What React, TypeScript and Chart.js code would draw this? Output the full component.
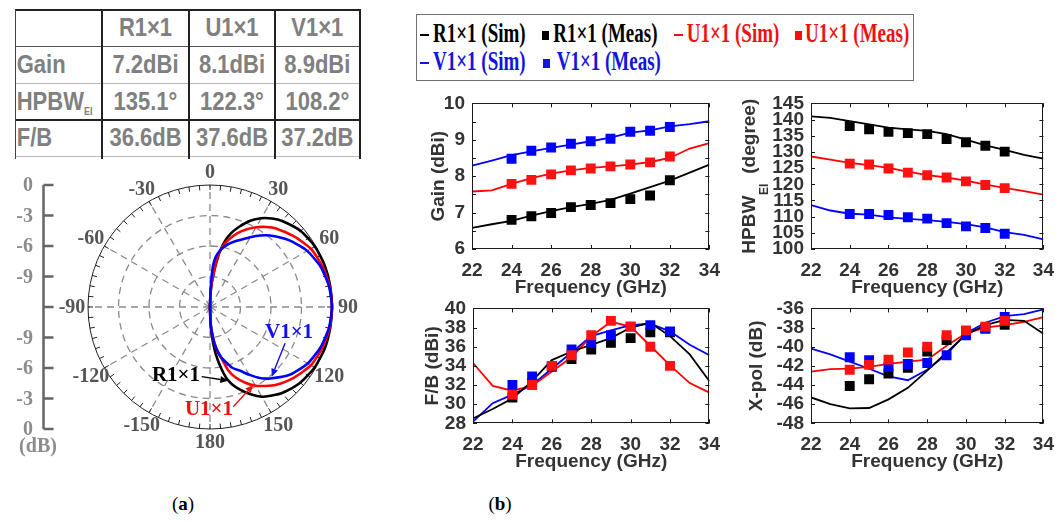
import React, { useEffect, useRef } from 'react';
import { Chart, registerables } from 'chart.js';
Chart.register(...registerables);

const SANS = '"Liberation Sans", Arial, sans-serif';
const SERIF = '"Liberation Serif", "Times New Roman", serif';
const BLACK = '#000000';
const RED = '#ff0000';
const BLUE = '#0000ff';

// ---------- table ----------
const tableHeader = ['', 'R1×1', 'U1×1', 'V1×1'];
const tableRowNames = ['Gain', 'HPBW', 'F/B'];
const tableGain = ['7.2dBi', '8.1dBi', '8.9dBi'];
const tableHpbw = ['135.1°', '122.3°', '108.2°'];
const tableFB = ['36.6dB', '37.6dB', '37.2dB'];

// ---------- polar patterns (dB vs angle in degrees) ----------
const DB_MIN = -12;
const polarAngles = [0, 2, 4, 6, 8, 10, 13, 16, 20, 25, 30, 35, 40, 50, 60, 70, 80, 90, 100, 110, 120, 130, 140, 145, 150, 155, 160, 164, 167, 170, 173, 176, 178, 180];
const patR = [-12, -10.8, -9.72, -8.76, -7.68, -6.48, -5.28, -4.44, -3.6, -2.64, -1.92, -1.38, -0.96, -0.36, -0.08, 0, 0, 0, 0, 0, -0.12, -0.42, -0.96, -1.38, -1.8, -2.52, -3.36, -4.08, -4.8, -6.0, -7.32, -9.0, -10.2, -12];
const patU = [-12, -10.8, -9.6, -8.64, -7.32, -6.48, -5.64, -5.04, -4.32, -3.6, -2.94, -2.4, -1.92, -1.2, -0.54, -0.24, -0.06, 0, -0.06, -0.24, -0.54, -1.2, -1.98, -2.52, -3.06, -3.78, -4.62, -5.52, -6.72, -7.44, -8.4, -9.6, -10.56, -12];
const patV = [-12, -10.2, -8.04, -7.2, -6.72, -6.36, -5.94, -5.58, -5.16, -4.68, -4.08, -3.42, -2.82, -1.8, -0.96, -0.42, -0.12, 0, -0.12, -0.42, -0.9, -1.68, -2.82, -3.48, -4.32, -5.1, -5.64, -6.36, -6.84, -7.56, -8.4, -9.6, -10.56, -12];
const polarAngleLabels = [0, 30, 60, 90, 120, 150, 180, -150, -120, -90, -60, -30];
const dbScaleLabels = ['0', '-3', '-6', '-9', '', '-9', '-6', '-3', '0'];
const dbRings = [-9, -6, -3];

// ---------- frequency-swept results ----------
const freqSim = [22, 23, 24, 25, 26, 27, 28, 29, 30, 31, 32, 33, 34];
const freqMeas = [24, 25, 26, 27, 28, 29, 30, 31, 32];

const gainSimR = [6.58, 6.68, 6.77, 6.92, 7.04, 7.15, 7.24, 7.35, 7.52, 7.70, 7.88, 8.10, 8.32];
const gainSimU = [7.58, 7.61, 7.79, 7.95, 8.07, 8.16, 8.23, 8.27, 8.32, 8.39, 8.50, 8.76, 8.91];
const gainSimV = [8.29, 8.43, 8.58, 8.68, 8.78, 8.87, 8.96, 9.06, 9.20, 9.26, 9.37, 9.43, 9.51];
const gainMeasR = [6.80, 6.90, 6.99, 7.15, 7.21, 7.26, 7.37, 7.47, 7.89];
const gainMeasU = [7.79, 7.90, 8.05, 8.16, 8.21, 8.27, 8.32, 8.38, 8.54];
const gainMeasV = [8.48, 8.70, 8.79, 8.89, 8.96, 9.03, 9.22, 9.25, 9.35];

const hpbwSimR = [141.0, 140.5, 139.5, 138.5, 137.5, 137.0, 136.5, 135.5, 133.8, 132.0, 130.6, 129.1, 127.9];
const hpbwSimU = [128.6, 127.6, 126.6, 125.9, 125.1, 123.9, 122.8, 122.1, 121.1, 119.9, 118.9, 117.9, 116.8];
const hpbwSimV = [113.6, 111.9, 110.9, 110.6, 109.8, 109.3, 108.9, 108.4, 107.7, 106.7, 105.2, 104.4, 103.0];
const hpbwMeasR = [138.0, 137.0, 136.2, 135.8, 135.5, 134.0, 133.0, 131.9, 130.1];
const hpbwMeasU = [126.4, 126.1, 124.9, 123.6, 122.8, 122.1, 120.9, 119.8, 118.8];
const hpbwMeasV = [110.8, 110.8, 110.5, 109.8, 109.4, 108.0, 107.0, 106.5, 104.7];

const fbSimR = [28.5, 29.5, 30.6, 32.4, 34.6, 35.5, 36.2, 36.9, 38.0, 38.5, 37.1, 35.2, 32.4];
const fbSimU = [34.3, 31.9, 31.4, 31.9, 33.4, 34.9, 37.1, 38.6, 38.1, 36.1, 34.05, 32.2, 31.2];
const fbSimV = [28.17, 30.1, 31.0, 32.0, 33.7, 35.4, 37.1, 37.7, 38.25, 38.4, 37.6, 36.2, 35.1];
const fbMeasR = [30.7, 32.2, 33.9, 34.7, 35.7, 36.4, 36.9, 37.5, 37.5];
const fbMeasU = [31.0, 32.0, 34.0, 35.1, 37.2, 38.7, 38.1, 36.0, 34.0];
const fbMeasV = [32.0, 32.9, 34.0, 35.7, 36.4, 37.2, 38.1, 38.25, 37.6];

const xpSimR = [-45.3, -46.0, -46.45, -46.4, -45.5, -44.3, -42.5, -40.6, -38.75, -37.75, -37.2, -37.3, -38.65];
const xpSimU = [-42.6, -42.35, -42.3, -42.1, -41.8, -41.55, -41.35, -39.9, -38.6, -38.0, -37.75, -37.4, -36.9];
const xpSimV = [-40.2, -40.8, -41.55, -42.3, -43.1, -43.5, -42.4, -40.8, -38.6, -37.5, -36.8, -36.6, -36.1];
const xpMeasR = [-44.1, -43.4, -42.8, -42.2, -40.5, -39.3, -38.6, -38.1, -37.7];
const xpMeasU = [-42.4, -41.9, -41.35, -40.6, -40.0, -38.8, -38.3, -37.9, -37.3];
const xpMeasV = [-41.1, -41.4, -42.1, -41.8, -41.7, -40.9, -38.8, -38.1, -36.9];

// ---------- helpers ----------
const TICK_FONT = { family: SANS, size: 19, weight: 'bold' as const };
const AX_COLOR = '#333333';
const XAXIS_H = 50;

function drawArrow(ctx: CanvasRenderingContext2D, x1: number, y1: number, x2: number, y2: number, color: string) {
  const ang = Math.atan2(y2 - y1, x2 - x1);
  const hl = 8, hw = 3.5;
  ctx.save();
  ctx.strokeStyle = color; ctx.fillStyle = color; ctx.lineWidth = 1.4;
  ctx.beginPath();
  ctx.moveTo(x1, y1);
  ctx.lineTo(x2 - hl * Math.cos(ang), y2 - hl * Math.sin(ang));
  ctx.stroke();
  ctx.beginPath();
  ctx.moveTo(x2, y2);
  ctx.lineTo(x2 - hl * Math.cos(ang) + hw * Math.sin(ang), y2 - hl * Math.sin(ang) - hw * Math.cos(ang));
  ctx.lineTo(x2 - hl * Math.cos(ang) - hw * Math.sin(ang), y2 - hl * Math.sin(ang) + hw * Math.cos(ang));
  ctx.closePath();
  ctx.fill();
  ctx.restore();
}

// ---------- Polar chart ----------
const polarAnnotations = [
  { text: 'R1×1', color: BLACK, tx: -0.279, ty: -0.557, ax1: -0.068, ay1: -0.571, ax2: 0.150, ay2: -0.604 },
  { text: 'U1×1', color: '#ee1111', tx: -0.008, ty: -0.836, ax1: 0.191, ay1: -0.817, ax2: 0.355, ay2: -0.639 },
  { text: 'V1×1', color: '#1111ee', tx: 0.648, ty: -0.205, ax1: 0.615, ay1: -0.298, ax2: 0.506, ay2: -0.571 },
];

const polarPlugin = {
  id: 'polarDecor',
  beforeDatasetsDraw(chart: any) {
    const { ctx } = chart;
    const sx = chart.scales.x, sy = chart.scales.y;
    const cx = sx.getPixelForValue(0), cy = sy.getPixelForValue(0);
    const R = sx.getPixelForValue(1) - cx;
    ctx.save();
    ctx.strokeStyle = '#8a8a8a'; ctx.lineWidth = 1.3; ctx.setLineDash([7, 5]);
    for (const d of dbRings) {
      const f = (d - DB_MIN) / -DB_MIN;
      ctx.beginPath(); ctx.arc(cx, cy, R * f, 0, 2 * Math.PI); ctx.stroke();
    }
    for (let a = 0; a < 360; a += 30) {
      const t = a * Math.PI / 180;
      ctx.beginPath(); ctx.moveTo(cx, cy); ctx.lineTo(cx + R * Math.sin(t), cy - R * Math.cos(t)); ctx.stroke();
    }
    ctx.setLineDash([]);
    ctx.strokeStyle = '#222'; ctx.lineWidth = 1;
    ctx.beginPath(); ctx.arc(cx, cy, R, 0, 2 * Math.PI); ctx.stroke();
    ctx.beginPath();
    for (let a = 0; a < 360; a += 5) {
      const t = a * Math.PI / 180;
      ctx.moveTo(cx + R * Math.sin(t), cy - R * Math.cos(t));
      ctx.lineTo(cx + (R - 5) * Math.sin(t), cy - (R - 5) * Math.cos(t));
    }
    ctx.stroke();
    ctx.restore();
  },
  afterDatasetsDraw(chart: any) {
    const { ctx } = chart;
    const sx = chart.scales.x, sy = chart.scales.y;
    const cx = sx.getPixelForValue(0), cy = sy.getPixelForValue(0);
    const R = sx.getPixelForValue(1) - cx;
    ctx.save();
    // angle labels
    ctx.font = `bold 20px ${SERIF}`;
    ctx.fillStyle = '#555555';
    ctx.textAlign = 'center'; ctx.textBaseline = 'middle';
    for (const a of polarAngleLabels) {
      const t = a * Math.PI / 180;
      const r = R + 13 + 3 * Math.abs(Math.sin(t));
      ctx.fillText(String(a), cx + r * Math.sin(t), cy - r * Math.cos(t) + 1);
    }
    // left dB scale
    const lx = 43.5;
    ctx.strokeStyle = '#666'; ctx.lineWidth = 2.5;
    ctx.beginPath();
    ctx.moveTo(lx, cy - R); ctx.lineTo(lx, cy + R);
    for (let k = -4; k <= 4; k++) {
      const y = cy + k * R / 4;
      ctx.moveTo(lx, y); ctx.lineTo(lx + 10, y);
    }
    ctx.stroke();
    ctx.fillStyle = '#8c8c8c';
    ctx.textAlign = 'right';
    dbScaleLabels.forEach((s, i) => {
      const y = cy + (i - 4) * R / 4;
      if (s) ctx.fillText(s, 33, y + 1);
    });
    ctx.textAlign = 'center';
    ctx.fillText('(dB)', 38, cy + R + 18);
    // annotations
    ctx.font = `bold 21px ${SERIF}`;
    for (const an of polarAnnotations) {
      ctx.fillStyle = an.color;
      ctx.fillText(an.text, sx.getPixelForValue(an.tx), sy.getPixelForValue(an.ty) + 1);
      drawArrow(ctx, sx.getPixelForValue(an.ax1), sy.getPixelForValue(an.ay1), sx.getPixelForValue(an.ax2), sy.getPixelForValue(an.ay2), an.color);
    }
    ctx.restore();
  },
};

function toPolarXY(angles: number[], db: number[]) {
  return angles.map((a, i) => {
    const r = (Math.max(db[i], DB_MIN) - DB_MIN) / -DB_MIN;
    const t = a * Math.PI / 180;
    return { x: r * Math.sin(t), y: r * Math.cos(t) };
  });
}

function PolarChart() {
  const ref = useRef<HTMLCanvasElement>(null);
  const W = 420, H = 300, R = 122, CX = 210, CY = 150;
  useEffect(() => {
    const mk = (db: number[], color: string, order: number) => ({
      data: toPolarXY(polarAngles, db), showLine: true, borderColor: color, backgroundColor: color,
      borderWidth: 2.6, pointRadius: 0, tension: 0.2, order,
    });
    const chart = new Chart(ref.current!, {
      type: 'scatter',
      data: { datasets: [mk(patR, BLACK, 2), mk(patU, RED, 1), mk(patV, BLUE, 0)] as any },
      options: {
        responsive: false, animation: false, events: [],
        layout: { padding: 0 },
        plugins: { legend: { display: false }, tooltip: { enabled: false } },
        scales: {
          x: { type: 'linear', display: false, min: -CX / R, max: (W - CX) / R },
          y: { type: 'linear', display: false, min: -(H - CY) / R, max: CY / R },
        },
      },
      plugins: [polarPlugin],
    });
    return () => chart.destroy();
  }, []);
  return <canvas ref={ref} width={W} height={H} style={{ position: 'absolute', left: 0, top: 157 }} />;
}

// ---------- sub charts ----------
const framePlugin = {
  id: 'frame',
  afterDatasetsDraw(chart: any) {
    const { ctx, chartArea: a, scales } = chart;
    ctx.save();
    ctx.strokeStyle = '#1a1a1a'; ctx.lineWidth = 1;
    ctx.strokeRect(Math.round(a.left) + 0.5, Math.round(a.top) + 0.5, Math.round(a.right - a.left) - 1, Math.round(a.bottom - a.top) - 1);
    const tl = 4;
    ctx.beginPath();
    scales.y.ticks.forEach((t: any) => {
      const y = Math.round(scales.y.getPixelForValue(t.value)) + 0.5;
      ctx.moveTo(a.left, y); ctx.lineTo(a.left + tl, y);
      ctx.moveTo(a.right, y); ctx.lineTo(a.right - tl, y);
    });
    scales.x.ticks.forEach((t: any) => {
      const x = Math.round(scales.x.getPixelForValue(t.value)) + 0.5;
      ctx.moveTo(x, a.bottom); ctx.lineTo(x, a.bottom - tl);
      ctx.moveTo(x, a.top); ctx.lineTo(x, a.top + tl);
    });
    ctx.stroke();
    ctx.restore();
  },
};

const hpbwTitlePlugin = {
  id: 'hpbwTitle',
  afterDraw(chart: any) {
    const { ctx, chartArea: a } = chart;
    const x = chart.options.plugins.hpbwTitle.x;
    const yc = (a.top + a.bottom) / 2;
    ctx.save();
    ctx.translate(x, yc);
    ctx.rotate(-Math.PI / 2);
    ctx.fillStyle = AX_COLOR;
    const big = `bold 19px ${SANS}`, small = `bold 12px ${SANS}`;
    ctx.font = big; const w1 = ctx.measureText('HPBW').width; const w3 = ctx.measureText('  (degree)').width;
    ctx.font = small; const w2 = ctx.measureText('EI').width;
    let x0 = -(w1 + w2 + w3) / 2;
    ctx.textBaseline = 'middle'; ctx.textAlign = 'left';
    ctx.font = big; ctx.fillText('HPBW', x0, 0);
    ctx.font = small; ctx.textBaseline = 'alphabetic'; ctx.fillText('EI', x0 + w1 + 0.5, 18);
    ctx.font = big; ctx.textBaseline = 'middle'; ctx.fillText('  (degree)', x0 + w1 + w2, 0);
    ctx.restore();
  },
};

type Series = { color: string; y: number[] };
interface SubProps {
  rect: { x: number; y: number; w: number; h: number };
  area: { l: number; t: number; r: number; b: number };
  titleX: number;
  yTitle: string | null;
  yMin: number; yMax: number; yStep: number; yLabelStep: number;
  sim: Series[]; meas: Series[];
}

function SubChart(p: SubProps) {
  const ref = useRef<HTMLCanvasElement>(null);
  useEffect(() => {
    const lh = 19 * 1.2;
    const padL = p.yTitle ? p.titleX - p.rect.x - lh / 2 : 0;
    const yW = p.area.l - p.rect.x - padL;
    const padding = {
      left: padL,
      top: p.area.t - p.rect.y,
      right: p.rect.x + p.rect.w - p.area.r,
      bottom: p.rect.y + p.rect.h - p.area.b - XAXIS_H,
    };
    const simSets = p.sim.map((s, i) => ({
      data: freqSim.map((x, j) => ({ x, y: s.y[j] })), showLine: true, borderColor: s.color, backgroundColor: s.color,
      borderWidth: 1.8, pointRadius: 0, order: 10 + i,
    }));
    const measSets = p.meas.map((s, i) => ({
      data: freqMeas.map((x, j) => ({ x, y: s.y[j] })), showLine: false, borderColor: s.color, backgroundColor: s.color,
      borderWidth: 0, pointRadius: 7, pointStyle: 'rect', order: i,
    }));
    const chart = new Chart(ref.current!, {
      type: 'scatter',
      data: { datasets: [...simSets, ...measSets] as any },
      options: {
        responsive: false, animation: false, events: [],
        layout: { padding },
        plugins: { legend: { display: false }, tooltip: { enabled: false }, hpbwTitle: { x: p.titleX - p.rect.x } } as any,
        scales: {
          x: {
            type: 'linear', min: 22, max: 34,
            ticks: { stepSize: 2, font: TICK_FONT, color: AX_COLOR, padding: 10, maxRotation: 0, autoSkip: false },
            grid: { display: false, drawTicks: false }, border: { display: false },
            title: { display: true, text: 'Frequency (GHz)', font: TICK_FONT, color: AX_COLOR, padding: 0 },
            afterFit: (s: any) => { s.height = XAXIS_H; },
          },
          y: {
            type: 'linear', min: p.yMin, max: p.yMax,
            ticks: {
              stepSize: p.yStep, font: TICK_FONT, color: AX_COLOR, padding: 7, autoSkip: false,
              callback: (v: any) => {
                const k = (Number(v) - p.yMin) / p.yLabelStep;
                return Math.abs(k - Math.round(k)) < 1e-6 ? String(Math.round(Number(v) * 10) / 10) : '';
              },
            },
            grid: { display: false, drawTicks: false }, border: { display: false },
            title: { display: !!p.yTitle, text: p.yTitle || '', font: TICK_FONT, color: AX_COLOR, padding: 0 },
            afterFit: (s: any) => { s.width = yW; },
          },
        },
      },
      plugins: p.yTitle ? [framePlugin] : [framePlugin, hpbwTitlePlugin],
    });
    return () => chart.destroy();
  }, []);
  return <canvas ref={ref} width={p.rect.w} height={p.rect.h} style={{ position: 'absolute', left: p.rect.x, top: p.rect.y }} />;
}

// ---------- table ----------
function DataTable() {
  const xs = [15.7, 101.7, 189.3, 274.7, 360];
  const ys = [10, 46.7, 83.4, 120.1, 156.8];
  const rows = [tableHeader, [tableRowNames[0], ...tableGain], [tableRowNames[1], ...tableHpbw], [tableRowNames[2], ...tableFB]];
  const hLines = [
    { y: ys[0], w: 2, c: '#222' }, { y: ys[1], w: 1, c: '#555' }, { y: ys[2], w: 1, c: '#bbb' },
    { y: ys[3], w: 2, c: '#222' }, { y: ys[4], w: 1, c: '#bbb' },
  ];
  const txt: React.CSSProperties = { display: 'inline-block', transform: 'scaleY(1.2)', whiteSpace: 'nowrap' };
  return (
    <div style={{ position: 'absolute', left: 0, top: 0 }}>
      {hLines.map((l, i) => (
        <div key={'h' + i} style={{ position: 'absolute', left: xs[0] - 1, top: l.y - l.w / 2, width: xs[4] - xs[0] + 2, height: l.w, background: l.c }} />
      ))}
      {xs.map((x, i) => (
        <div key={'v' + i} style={{ position: 'absolute', left: x - (i === 0 ? 0.5 : 1), top: ys[0], width: i === 0 ? 1 : 2, height: ys[4] - ys[0] + 2, background: i === 0 ? '#444' : '#222' }} />
      ))}
      {rows.map((row, r) => row.map((cell, c) => (
        <div key={r + '-' + c} style={{
          position: 'absolute', left: xs[c] + (c === 0 ? 1 : 0), top: ys[r], width: c === 0 ? xs[1] - xs[0] : xs[c + 1] - xs[c],
          height: ys[r + 1] - ys[r], display: 'flex', alignItems: 'center', justifyContent: c === 0 ? 'flex-start' : 'center',
          font: `bold 22px ${SANS}`, color: '#808080',
        }}>
          <span style={txt}>{cell}{r === 2 && c === 0 ? <sub style={{ fontSize: 9, verticalAlign: -4 }}>EI</sub> : null}</span>
        </div>
      )))}
    </div>
  );
}

// ---------- legend ----------
const legendItems = [
  { text: 'R1×1 (Sim)', color: BLACK, kind: 'line', row: 0, mx: 420, tx: 433 },
  { text: 'R1×1 (Meas)', color: BLACK, kind: 'sq', row: 0, mx: 541.7, tx: 553.3 },
  { text: 'U1×1 (Sim)', color: '#ee1111', kind: 'line', row: 0, mx: 674.3, tx: 686.7 },
  { text: 'U1×1 (Meas)', color: '#ee1111', kind: 'sq', row: 0, mx: 795, tx: 805 },
  { text: 'V1×1 (Sim)', color: '#1414dc', kind: 'line', row: 1, mx: 420, tx: 433 },
  { text: 'V1×1 (Meas)', color: '#1414dc', kind: 'sq', row: 1, mx: 543.3, tx: 556.7 },
];

function Legend() {
  const L = 416, T = 14;
  const rowC = [35, 63];
  return (
    <div>
      <div style={{ position: 'absolute', left: L, top: T, width: 914 - L, height: 81 - T, border: '1.5px solid #707070', boxSizing: 'border-box' }} />
      {legendItems.map((it, i) => (
        <React.Fragment key={i}>
          {it.kind === 'line'
            ? <div style={{ position: 'absolute', left: it.mx, top: rowC[it.row] - 1, width: 9, height: 2.2, background: it.color }} />
            : <div style={{ position: 'absolute', left: it.mx, top: rowC[it.row] - 4.5, width: 7, height: 9, background: it.color }} />}
          <div style={{ position: 'absolute', left: it.tx, top: rowC[it.row] - 12, height: 24, lineHeight: '24px', font: `bold 19px ${SERIF}`, color: it.color, whiteSpace: 'nowrap' }}>
            <span style={{ display: 'inline-block', transform: 'scaleY(1.4)' }}>{it.text}</span>
          </div>
        </React.Fragment>
      ))}
    </div>
  );
}

function Caption({ x, letter }: { x: number; letter: string }) {
  return (
    <div style={{ position: 'absolute', left: x - 30, top: 493, width: 60, textAlign: 'center', font: `19px ${SERIF}`, color: '#000' }}>
      (<b>{letter}</b>)
    </div>
  );
}

export default function App() {
  return (
    <div style={{ position: 'absolute', left: 0, top: 0, width: 1064, height: 522, background: '#fff', overflow: 'hidden' }}>
      <DataTable />
      <PolarChart />
      <Legend />
      <SubChart rect={{ x: 405, y: 85, w: 325, h: 216 }} area={{ l: 472, t: 98.3, r: 718, b: 249 }} titleX={439} yTitle="Gain (dBi)"
        yMin={6} yMax={10} yStep={0.5} yLabelStep={1}
        sim={[{ color: BLACK, y: gainSimR }, { color: RED, y: gainSimU }, { color: BLUE, y: gainSimV }]}
        meas={[{ color: '#ff1111', y: gainMeasU }, { color: BLUE, y: gainMeasV }, { color: BLACK, y: gainMeasR }]} />
      <SubChart rect={{ x: 730, y: 85, w: 334, h: 216 }} area={{ l: 811, t: 98.3, r: 1051, b: 249 }} titleX={750} yTitle={null}
        yMin={100} yMax={145} yStep={5} yLabelStep={5}
        sim={[{ color: BLACK, y: hpbwSimR }, { color: RED, y: hpbwSimU }, { color: BLUE, y: hpbwSimV }]}
        meas={[{ color: '#ff1111', y: hpbwMeasU }, { color: BLUE, y: hpbwMeasV }, { color: BLACK, y: hpbwMeasR }]} />
      <SubChart rect={{ x: 405, y: 290, w: 325, h: 186 }} area={{ l: 473, t: 304.3, r: 718, b: 423.3 }} titleX={433} yTitle="F/B (dBi)"
        yMin={28} yMax={40} yStep={2} yLabelStep={2}
        sim={[{ color: BLACK, y: fbSimR }, { color: RED, y: fbSimU }, { color: BLUE, y: fbSimV }]}
        meas={[{ color: '#ff1111', y: fbMeasU }, { color: BLUE, y: fbMeasV }, { color: BLACK, y: fbMeasR }]} />
      <SubChart rect={{ x: 730, y: 290, w: 334, h: 186 }} area={{ l: 811, t: 304.3, r: 1051, b: 423.3 }} titleX={757} yTitle="X-pol (dB)"
        yMin={-48} yMax={-36} yStep={2} yLabelStep={2}
        sim={[{ color: BLACK, y: xpSimR }, { color: RED, y: xpSimU }, { color: BLUE, y: xpSimV }]}
        meas={[{ color: '#ff1111', y: xpMeasU }, { color: BLUE, y: xpMeasV }, { color: BLACK, y: xpMeasR }]} />
      <Caption x={183} letter="a" />
      <Caption x={500} letter="b" />
    </div>
  );
}
